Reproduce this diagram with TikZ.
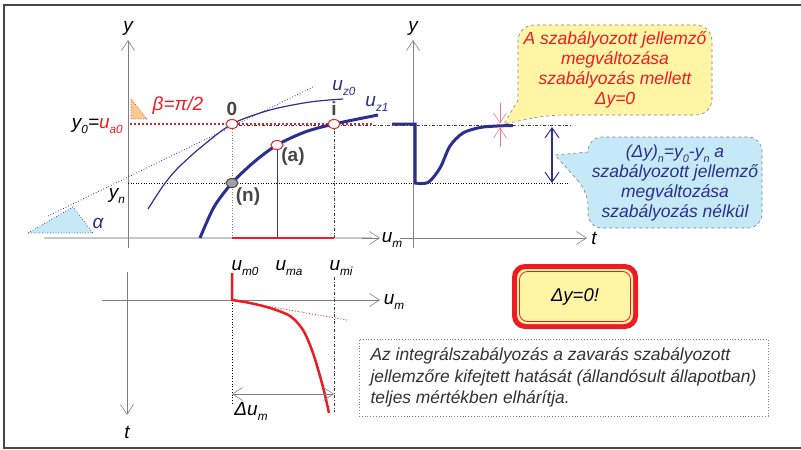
\documentclass[tikz,border=0pt]{standalone}
\usepackage{fontspec}
\setmainfont{Liberation Sans}
\usetikzlibrary{arrows.meta,shapes.geometric}
\definecolor{navy}{RGB}{43,47,143}
\definecolor{myred}{RGB}{237,28,36}
\definecolor{lblue}{RGB}{198,233,248}
\definecolor{lyellow}{RGB}{255,245,165}
\definecolor{lorange}{RGB}{251,201,143}
\definecolor{axgrey}{RGB}{128,128,128}
\definecolor{txtgrey}{RGB}{50,50,50}
\definecolor{framegrey}{RGB}{70,70,70}
\definecolor{ptgrey}{RGB}{160,160,160}
\newcommand\lo[1]{\raisebox{-0.5ex}{\scalebox{0.62}{#1}}}
\begin{document}
\begin{tikzpicture}[x=1pt,y=-1pt,
  barb/.style={Straight Barb[length=10pt,width=13pt,line width=0.6pt]},
  axis/.style={draw=axgrey, line width=0.7pt, -{Straight Barb[length=10pt,width=13pt,line width=0.6pt]}},
  lab/.style={font=\fontsize{19}{20}\selectfont\itshape, inner sep=0pt},
  blab/.style={font=\fontsize{19}{20}\selectfont\bfseries, text=framegrey, inner sep=0pt},
  ptw/.style={ellipse, draw=myred, fill=white, line width=1pt, minimum width=12pt, minimum height=9pt, inner sep=0pt},
  ptg/.style={ellipse, draw=framegrey, fill=ptgrey, line width=1pt, minimum width=12pt, minimum height=9pt, inner sep=0pt},
  calltext/.style={font=\fontsize{17.5}{20}\selectfont\itshape, align=center, inner sep=0pt},
  callbox/.style={draw=gray, dashed, line width=0.6pt}
]
\useasboundingbox (0,0) rectangle (801,450);
% frame
\draw[framegrey, line width=1.2pt] (801,5) -- (4,5) -- (4,448) -- (801,448);

% ---------- left chart ----------
\draw[line width=2.5pt, black!22] (44,238) -- (372,238);
\coordinate (umA) at (362,238);
\coordinate (umB) at (380,238);
\draw[axis] (umA) -- (umB);
\node[lab] (umlab1) at (392,240) {u\lo{m}};
\coordinate (yA) at (128,248);
\coordinate (yB) at (128,40);
\draw[axis] (yA) -- (yB);
\node[lab] (ylab1) at (128,28) {y};

% helper lines
\coordinate (yn0) at (128,183);
\coordinate (yn1) at (568,183);
\draw[black, dotted, line width=0.6pt] (yn0) -- (yn1);
\coordinate (dd0) at (232,125.5);
\coordinate (dd1) at (572,125.5);
\draw[darkgray, dash dot, line width=0.6pt] (dd0) -- (dd1);

% triangles
\filldraw[fill=lblue, draw=navy, dotted, line width=0.7pt] (28,233) -- (73,207) -- (93,233) -- cycle;
\filldraw[fill=lorange, draw=myred, dotted, line width=0.7pt] (131,99) -- (131,119) -- (147,119) -- cycle;
\node[lab, text=navy] (alpha) at (98,223) {α};
\node[lab, text=myred] (beta) at (178,106) {β=π/2};

% tangent and red line
\coordinate (tg0) at (48,216);
\coordinate (tg1) at (315,86);
\draw[navy, dotted, line width=0.8pt] (tg0) -- (tg1);
\coordinate (rl0) at (130,124);
\coordinate (rl1) at (372,124);
\draw[myred, line width=2pt, dash pattern=on 2pt off 2pt] (rl0) -- (rl1);

% curves
\draw[navy, line width=1.2pt] plot[smooth] coordinates {(148,209) (163,186) (177,169) (200,148) (232,124) (270,110) (310,102) (343,99)};
\draw[navy, line width=3pt] plot[smooth] coordinates {(200,238) (214,207) (232,183) (254,162) (277,145) (305,132) (334,124) (378,115)};
\node[lab, text=navy] (uz0) at (344,88) {u\lo{z0}};
\node[lab, text=navy] (uz1) at (377,104) {u\lo{z1}};

% verticals
\draw[gray, dotted, line width=0.7pt] (232,124) -- (232,238);
\draw[darkgray, line width=0.6pt] (277,148) -- (277,238);
\draw[darkgray, dash dot, line width=0.6pt] (334,124) -- (334,238);
\draw[myred, line width=2.5pt] (232,238) -- (334,238);

% points
\node[ptw] (p0) at (232,124) {};
\node[ptw] (pi) at (334,124) {};
\node[ptw] (pa) at (277,145) {};
\node[ptg] (pn) at (232,183) {};
\node[blab] (l0) at (232,109) {0};
\node[blab] (li) at (334,109) {i};
\node[blab] (la) at (293,157) {(a)};
\node[blab] (ln) at (248,197) {(n)};

\node[lab, anchor=east] (y0lab) at (123,126) {y\lo{0}=\textcolor{myred}{u\lo{a0}}};
\node[lab] (ynlab) at (117,196) {y\lo{n}};

% ---------- right chart ----------
\coordinate (ryA) at (413,248);
\coordinate (ryB) at (413,40);
\draw[axis] (ryA) -- (ryB);
\node[lab] (ylab2) at (413,28) {y};
\coordinate (tA) at (400,238);
\coordinate (tB) at (587,238);
\draw[axis] (tA) -- (tB);
\node[lab] (tlab1) at (594,238) {t};

\draw[navy, line width=3pt] (392,124) -- (415,124) -- plot[smooth] coordinates {(415,183) (428,182.5) (440,168) (450,146) (463,133) (480,127.5) (497,126) (513,125.5)};

\coordinate (mk0) at (500,103);
\coordinate (mk1) at (500,123.5);
\coordinate (mk2) at (500,147);
\coordinate (mk3) at (500,127.5);
\draw[myred!60, line width=0.6pt, -{Straight Barb[length=10pt,width=13pt,line width=0.6pt]}] (mk0) -- (mk1);
\draw[myred!60, line width=0.6pt, -{Straight Barb[length=10pt,width=13pt,line width=0.6pt]}] (mk2) -- (mk3);

\coordinate (da0) at (552,127);
\coordinate (da1) at (552,183);
\draw[navy, line width=2.2pt, {Straight Barb[length=10pt,width=14pt,line width=1pt]}-{Straight Barb[length=10pt,width=14pt,line width=1pt]}] (da0) -- (da1);

% callouts
\path[callbox, fill=lyellow] (548,115) -- (504,124) -- (518,100) [rounded corners=16pt] -- (518,25) -- (712,25) -- (712,115) -- cycle;
\node[calltext, text=myred] (ytext) at (615,70) {A szabályozott jellemző\\megváltozása\\szabályozás mellett\\Δy=0};

\path[callbox, fill=lblue] (588,192) -- (555,155) -- (588,152) [rounded corners=14pt] -- (588,137) -- (762,137) -- (762,228) -- (588,228) -- cycle;
\node[calltext, text=navy] (btext) at (675,183) {(Δy)\lo{n}=y\lo{0}-y\lo{n} a\\szabályozott jellemző\\megváltozása\\szabályozás nélkül};

% Delta y = 0! box
\fill[myred, rounded corners=13pt] (512,264) rectangle (638,329);
\fill[lyellow, rounded corners=9pt] (517,269) rectangle (633,324);
\draw[myred, line width=0.8pt, rounded corners=8pt] (519.5,271.5) rectangle (630.5,321.5);
\node[font=\fontsize{18.5}{20}\selectfont\itshape, inner sep=0pt] (dy0) at (575,297) {Δy=0!};

% note box
\node[draw=gray, dotted, line width=0.8pt, minimum width=409pt, minimum height=77pt, align=left, inner sep=0pt,
  font=\fontsize{17.4}{21.5}\selectfont\itshape, text=txtgrey] (note) at (563.5,377.5)
  {Az integrálszabályozás a zavarás szabályozott\\jellemzőre kifejtett hatását (állandósult állapotban)\\teljes mértékben elhárítja.};

% ---------- bottom chart ----------
\coordinate (bxA) at (102,300);
\coordinate (bxB) at (380,300);
\draw[axis] (bxA) -- (bxB);
\node[lab] (umlab2) at (394,302) {u\lo{m}};
\coordinate (btA) at (127,272);
\coordinate (btB) at (127,415);
\draw[axis] (btA) -- (btB);
\node[lab] (tlab2) at (127,432) {t};

\node[lab] (um0) at (245,268) {u\lo{m0}};
\node[lab] (uma) at (289,268) {u\lo{ma}};
\node[lab] (umi) at (341,268) {u\lo{mi}};

\draw[darkgray, dash dot, line width=0.6pt] (334,277) -- (334,412);
\draw[black, dotted, line width=0.7pt] (232,300) -- (232,403);
\draw[myred, dotted, line width=0.9pt] (232,300) -- (347,320);
\draw[myred, line width=2.5pt] (232,273) -- plot[smooth] coordinates {(232,300) (250,303) (270,308) (290,316) (303,330) (313,353) (323,387) (329,413)};

\coordinate (du0) at (232,394);
\coordinate (du1) at (334,394);
\draw[axgrey, line width=0.7pt, {Straight Barb[length=10pt,width=13pt,line width=0.6pt]}-{Straight Barb[length=10pt,width=13pt,line width=0.6pt]}] (du0) -- (du1);
\node[lab] (dulab) at (251,411) {Δu\lo{m}};
\end{tikzpicture}
\end{document}
